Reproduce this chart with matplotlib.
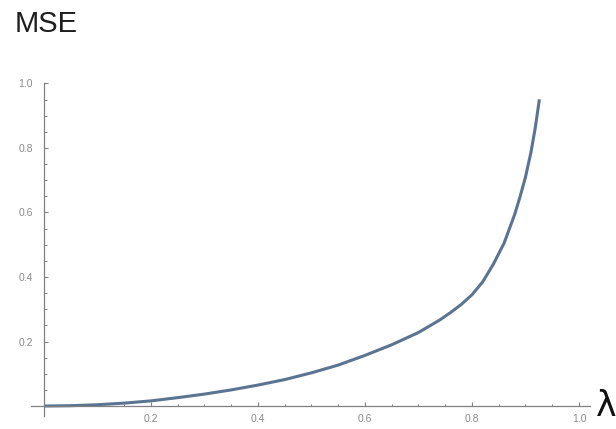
import numpy as np
import matplotlib.pyplot as plt
from matplotlib.ticker import MultipleLocator

# values
lam = [0.0, 0.05, 0.1, 0.15, 0.2, 0.25, 0.3, 0.35, 0.4, 0.45, 0.5, 0.55,
       0.6, 0.65, 0.7, 0.74, 0.76, 0.78, 0.8, 0.82, 0.84, 0.86, 0.88, 0.89,
       0.9, 0.91, 0.918, 0.926]
mse = [0.0, 0.001, 0.004, 0.009, 0.016, 0.026, 0.037, 0.05, 0.065, 0.082,
       0.103, 0.127, 0.157, 0.19, 0.228, 0.267, 0.29, 0.315, 0.345, 0.385,
       0.44, 0.505, 0.595, 0.65, 0.71, 0.785, 0.86, 0.951]

x_ticks = [0.2, 0.4, 0.6, 0.8, 1.0]
y_ticks = [0.2, 0.4, 0.6, 0.8, 1.0]

plt.rcParams['font.family'] = ['Liberation Sans', 'DejaVu Sans']

fig = plt.figure(figsize=(6.16, 4.29), dpi=100)
ax = fig.add_axes([0.0497, 0.031, 0.9076, 0.7744])

ax.plot(lam, mse, color='#5a7492', lw=2.2, solid_capstyle='butt',
        solid_joinstyle='round')

ax.set_xlim(-0.025, 1.02)
ax.set_ylim(-0.03, 1.0)

axis_col = '#808080'
for s in ['top', 'right']:
    ax.spines[s].set_visible(False)
ax.spines['left'].set_position(('data', 0))
ax.spines['bottom'].set_position(('data', 0))
for s in ['left', 'bottom']:
    ax.spines[s].set_color(axis_col)
    ax.spines[s].set_linewidth(0.9)

ax.set_xticks(x_ticks)
ax.set_xticklabels(['%.1f' % v for v in x_ticks])
ax.set_yticks(y_ticks)
ax.set_yticklabels(['%.1f' % v for v in y_ticks])
ax.xaxis.set_minor_locator(MultipleLocator(0.05))
ax.yaxis.set_minor_locator(MultipleLocator(0.05))

ax.tick_params(which='major', direction='in', length=3, width=0.8,
               color=axis_col, labelcolor='#8a8a8a', labelsize=7.5, pad=6)
ax.tick_params(which='minor', direction='in', length=1.8, width=0.7,
               color=axis_col)
ax.tick_params(axis='y', pad=8)

fig.text(0.024, 0.926, 'MSE', fontsize=21, color='#1e1e1e', va='baseline')
fig.text(0.967, 0.03, 'λ', fontsize=25, color='#111111', va='baseline',
         family='DejaVu Sans')

plt.savefig('out.png', dpi=100)
